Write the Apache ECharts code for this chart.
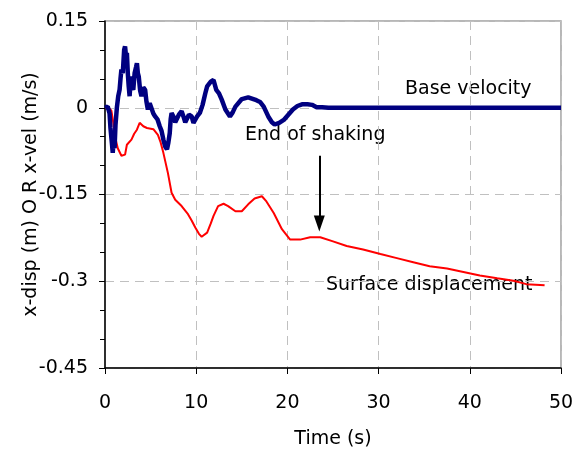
<!DOCTYPE html>
<html>
<head>
<meta charset="utf-8">
<script src="https://cdn.jsdelivr.net/npm/echarts@6/dist/echarts.min.js"></script>
<style>html,body{margin:0;padding:0;background:#fff;}#c{width:579px;height:454px;}</style>
</head>
<body>
<div id="c"></div>
<script>
// Time (s), base velocity (m/s)
const baseVelT = [0,0.3,0.5,0.6,0.75,0.85,0.95,1.05,1.15,1.3,1.45,1.6,1.7,1.8,1.95,2.1,2.2,2.3,2.4,2.5,2.6,2.7,2.8,2.9,3.0,3.1,3.25,3.4,3.5,3.6,3.7,3.85,4.0,4.2,4.4,4.55,4.7,4.9,5.1,5.3,5.5,5.75,6.0,6.2,6.4,6.6,6.8,6.95,7.1,7.2,7.3,7.5,7.7,7.9,8.1,8.4,8.6,8.8,9.0,9.2,9.5,9.7,9.9,10.1,10.4,10.7,11.0,11.2,11.6,11.9,12.2,12.5,12.8,13.2,13.7,14.0,14.3,15.0,15.7,16.6,17.0,17.4,17.9,18.3,18.6,19.1,19.6,20.1,20.6,21.1,21.6,22.2,22.7,23.2,23.8,24.5,30,40,50];
const baseVelV = [0,0.002,-0.01,-0.035,-0.06,-0.078,-0.055,-0.07,-0.03,0.0,0.02,0.031,0.05,0.066,0.06,0.1,0.106,0.09,0.095,0.06,0.037,0.02,0.045,0.054,0.035,0.031,0.06,0.07,0.077,0.06,0.054,0.03,0.02,0.035,0.031,0.01,-0.003,0.008,0.005,-0.01,-0.015,-0.02,-0.032,-0.04,-0.055,-0.067,-0.072,-0.06,-0.044,-0.02,-0.009,-0.015,-0.025,-0.024,-0.012,-0.006,-0.015,-0.025,-0.024,-0.012,-0.015,-0.026,-0.026,-0.015,-0.009,0.005,0.025,0.037,0.045,0.048,0.031,0.025,0.014,-0.003,-0.015,-0.008,0.002,0.015,0.018,0.013,0.01,0.002,-0.015,-0.025,-0.029,-0.026,-0.021,-0.012,-0.003,0.003,0.006,0.006,0.005,0.001,0.001,0,0,0,0];
// Time (s), surface displacement (m)
const surfDispT = [0,0.4,0.7,0.9,1.1,1.4,1.8,2.2,2.4,2.9,3.2,3.5,3.8,4.2,4.6,5.3,5.8,6.1,6.4,6.9,7.3,7.7,8.4,9.1,9.5,9.9,10.3,10.6,11.2,11.6,11.9,12.4,13.0,13.5,14.3,15.0,15.7,16.4,17.2,17.7,18.5,19.4,20.3,21.4,22.5,23.6,25.0,26.5,28.3,30.2,32.0,33.8,35.6,37.5,39.3,41.1,43.0,44.8,46.2,48.2];
const surfDispV = [0,0,-0.005,-0.025,-0.05,-0.07,-0.083,-0.081,-0.064,-0.055,-0.045,-0.038,-0.026,-0.032,-0.035,-0.037,-0.047,-0.06,-0.078,-0.113,-0.147,-0.159,-0.17,-0.184,-0.195,-0.207,-0.218,-0.223,-0.216,-0.2,-0.187,-0.17,-0.166,-0.17,-0.179,-0.179,-0.167,-0.157,-0.153,-0.162,-0.182,-0.21,-0.228,-0.228,-0.224,-0.224,-0.231,-0.239,-0.245,-0.253,-0.26,-0.267,-0.274,-0.278,-0.284,-0.29,-0.295,-0.299,-0.305,-0.307];
const xTicks = [0,10,20,30,40,50];
const yTicks = [0.15,0,-0.15,-0.3,-0.45];
const shakingEnd = 23.5;
const arrowV = [-0.083,-0.2];

const FONT = 'DejaVu Sans';
const chart = echarts.init(document.getElementById('c'), null, {renderer:'canvas'});
const zip = (a,b)=>a.map((t,i)=>[t,b[i]]);
chart.setOption({
  animation:false,
  backgroundColor:'#fff',
  grid:{left:105,right:18,top:21,bottom:86,show:true,borderColor:'#a0a0a0',borderWidth:1.5},
  xAxis:{
    type:'value',min:xTicks[0],max:xTicks[xTicks.length-1],interval:10,
    name:'Time (s)',nameLocation:'middle',nameGap:62,nameMoveOverlap:false,
    nameTextStyle:{fontFamily:FONT,fontSize:19,color:'#000'},
    axisLine:{onZero:false,lineStyle:{color:'#000',width:1.5}},
    axisTick:{show:true,length:6,lineStyle:{color:'#000'}},
    axisLabel:{fontFamily:FONT,fontSize:19,color:'#000',margin:26},
    splitLine:{show:true,lineStyle:{color:'#c0c0c0',type:[9,6],width:1}}
  },
  yAxis:{
    type:'value',min:yTicks[yTicks.length-1],max:yTicks[0],interval:0.15,
    name:'x-disp (m) O R x-vel (m/s)',nameLocation:'middle',nameGap:64,nameMoveOverlap:false,
    nameTextStyle:{fontFamily:FONT,fontSize:19,color:'#000'},
    axisLine:{onZero:false,lineStyle:{color:'#000',width:1.5}},
    axisTick:{show:true,length:6,lineStyle:{color:'#000'}},
    minorTick:{show:true,splitNumber:3,length:5,lineStyle:{color:'#000'}},
    axisLabel:{fontFamily:FONT,fontSize:19,color:'#000',margin:17,
      formatter:v=>{const r=Math.round(v*100)/100; return String(r);}},
    splitLine:{show:true,lineStyle:{color:'#c0c0c0',type:[9,6],width:1}}
  },
  series:[
    {type:'line',name:'Surface displacement',data:zip(surfDispT,surfDispV),showSymbol:false,
     lineStyle:{color:'#ff0000',width:2},itemStyle:{color:'#ff0000'},z:3,
     markLine:{silent:true,symbol:['none','triangle'],symbolSize:[11,16],
       label:{show:false},
       lineStyle:{color:'#000',width:2,type:'solid'},
       data:[[{coord:[shakingEnd,arrowV[0]]},{coord:[shakingEnd,arrowV[1]]}]]}},
    {type:'line',name:'Base velocity',data:zip(baseVelT,baseVelV),showSymbol:false,
     lineStyle:{color:'#000080',width:4.5},itemStyle:{color:'#000080'},z:4}
  ],
  graphic:[
    {type:'text',left:405,top:80,style:{text:'Base velocity',font:'19px '+FONT,fill:'#000'}},
    {type:'text',left:245,top:126,style:{text:'End of shaking',font:'19px '+FONT,fill:'#000'}},
    {type:'text',left:326,top:276,style:{text:'Surface displacement',font:'19px '+FONT,fill:'#000'}}
  ]
});
</script>
</body>
</html>
